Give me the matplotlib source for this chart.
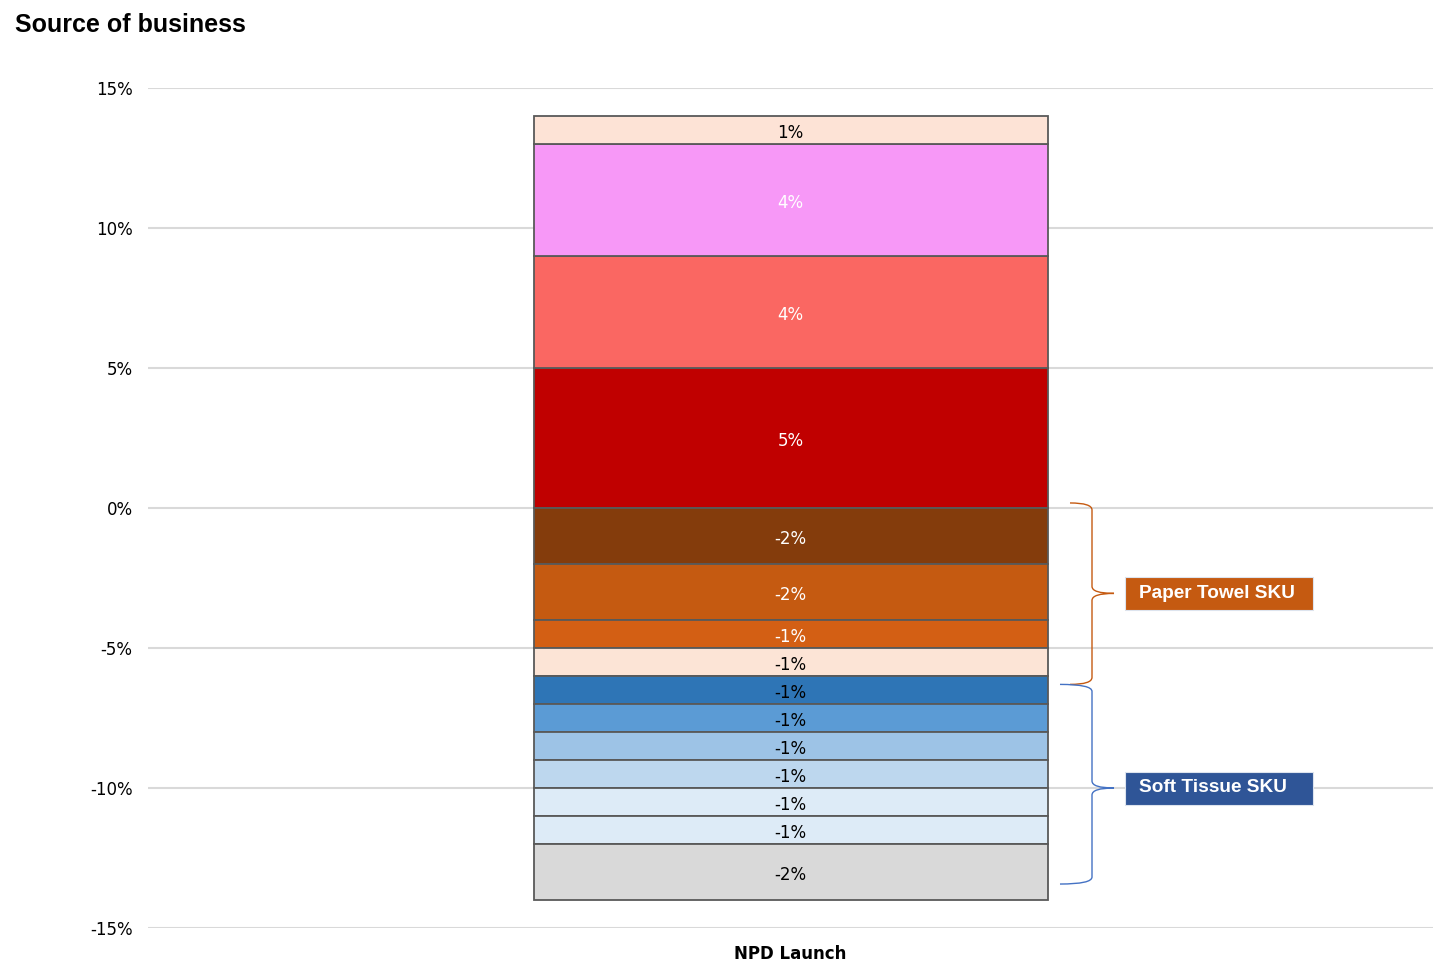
import matplotlib
matplotlib.use("Agg")
import matplotlib.pyplot as plt
from matplotlib.path import Path
from matplotlib.patches import PathPatch

# ---- data ----
category = "NPD Launch"
pos_values = [5, 4, 4, 1]  # stacked upward from 0
pos_colors = ["#C00000", "#FA6762", "#F798F7", "#FDE3D6"]
pos_text = ["white", "white", "white", "black"]
pos_labels = ["5%", "4%", "4%", "1%"]

neg_values = [-2, -2, -1, -1, -1, -1, -1, -1, -1, -1, -2]  # stacked downward from 0
neg_colors = ["#843C0C", "#C55A11", "#D35F14", "#FCE4D6", "#2E75B6", "#5B9BD5",
              "#9DC3E6", "#BDD7EE", "#DDEBF7", "#DDEBF7", "#D9D9D9"]
neg_text = ["white", "white", "white", "black", "black", "black",
            "black", "black", "black", "black", "black"]
neg_labels = ["-2%", "-2%", "-1%", "-1%", "-1%", "-1%", "-1%", "-1%", "-1%", "-1%", "-2%"]

yticks = [-15, -10, -5, 0, 5, 10, 15]
ytick_labels = ["-15%", "-10%", "-5%", "0%", "5%", "10%", "15%"]

groups = ["Paper Towel SKU", "Soft Tissue SKU"]
group_spans = [(0.18, -6.3), (-6.3, -13.43)]
group_mid = [-3.05, -10.0]
group_colors = ["#C55A11", "#2F5597"]
group_line_colors = ["#C55A11", "#4472C4"]

# ---- figure ----
fig = plt.figure(figsize=(14.56, 9.73), dpi=100)
ax = fig.add_axes([148/1456, 1-928/973, (1433-148)/1456, (928-88)/973])
ax.set_xlim(-0.5, 0.5)
ax.set_ylim(-15, 15)

bw = 0.4
edge = "#595959"
lab_off = -0.1
bottom = 0
for v, c, tc, lab in zip(pos_values, pos_colors, pos_text, pos_labels):
    ax.bar(0, v, bw, bottom=bottom, color=c, edgecolor=edge, linewidth=1.3, zorder=3)
    ax.text(0, bottom + v/2 + lab_off, lab, ha="center", va="center", color=tc,
            fontsize=12, family="DejaVu Sans", zorder=4)
    bottom += v
bottom = 0
for v, c, tc, lab in zip(neg_values, neg_colors, neg_text, neg_labels):
    ax.bar(0, v, bw, bottom=bottom, color=c, edgecolor=edge, linewidth=1.3, zorder=3)
    ax.text(0, bottom + v/2 + lab_off, lab, ha="center", va="center", color=tc,
            fontsize=12, family="DejaVu Sans", zorder=4)
    bottom += v

ax.set_yticks(yticks)
ax.set_yticklabels(ytick_labels, fontsize=12, color="#000000")
ax.set_xticks([0])
ax.set_xticklabels([category], fontsize=12, fontweight="bold")
ax.tick_params(axis="both", length=0)
ax.tick_params(axis="y", pad=11)
ax.tick_params(axis="x", pad=12)
ax.grid(axis="y", color="#D9D9D9", linewidth=1.5, zorder=0)
ax.set_axisbelow(True)
for s in ax.spines.values():
    s.set_visible(False)

def px2x(px):
    return (px - 148) / 1285 - 0.5

# braces
brace_x0 = [px2x(1070), px2x(1060)]
brace_x1 = px2x(1092)
brace_tip = px2x(1114)
for (ytop, ybot), ym, lc, x0 in zip(group_spans, group_mid, group_line_colors, brace_x0):
    r = 0.25
    verts = [
        (x0, ytop), (brace_x1, ytop), (brace_x1, ytop - r),
        (brace_x1, ym + r),
        (brace_x1, ym), (brace_tip, ym),
        (brace_x1, ym), (brace_x1, ym - r),
        (brace_x1, ybot + r),
        (brace_x1, ybot), (x0, ybot),
    ]
    codes = [Path.MOVETO, Path.CURVE3, Path.CURVE3,
             Path.LINETO,
             Path.CURVE3, Path.CURVE3,
             Path.CURVE3, Path.CURVE3,
             Path.LINETO,
             Path.CURVE3, Path.CURVE3]
    ax.add_patch(PathPatch(Path(verts, codes), facecolor="none", edgecolor=lc,
                           linewidth=1.0, zorder=5, clip_on=False))

# group label boxes
box_x0 = px2x(1125)
box_w = px2x(1313) - box_x0
box_h = 33 / 28
text_x = px2x(1139)
for ym, name, fc in zip(group_mid, groups, group_colors):
    ax.add_patch(plt.Rectangle((box_x0, ym - box_h/2), box_w, box_h, facecolor=fc,
                               edgecolor="#DDE4EE", linewidth=0.8, zorder=6, clip_on=False))
    ax.text(text_x, ym, name, ha="left", va="center",
            color="white", fontsize=13.7, fontweight="bold", family="Liberation Sans", zorder=7)

fig.text(15/1456, 1 - 25/973, "Source of business", ha="left", va="center",
         fontsize=18, fontweight="bold", family="Liberation Sans")

fig.savefig("out.png", dpi=100)
